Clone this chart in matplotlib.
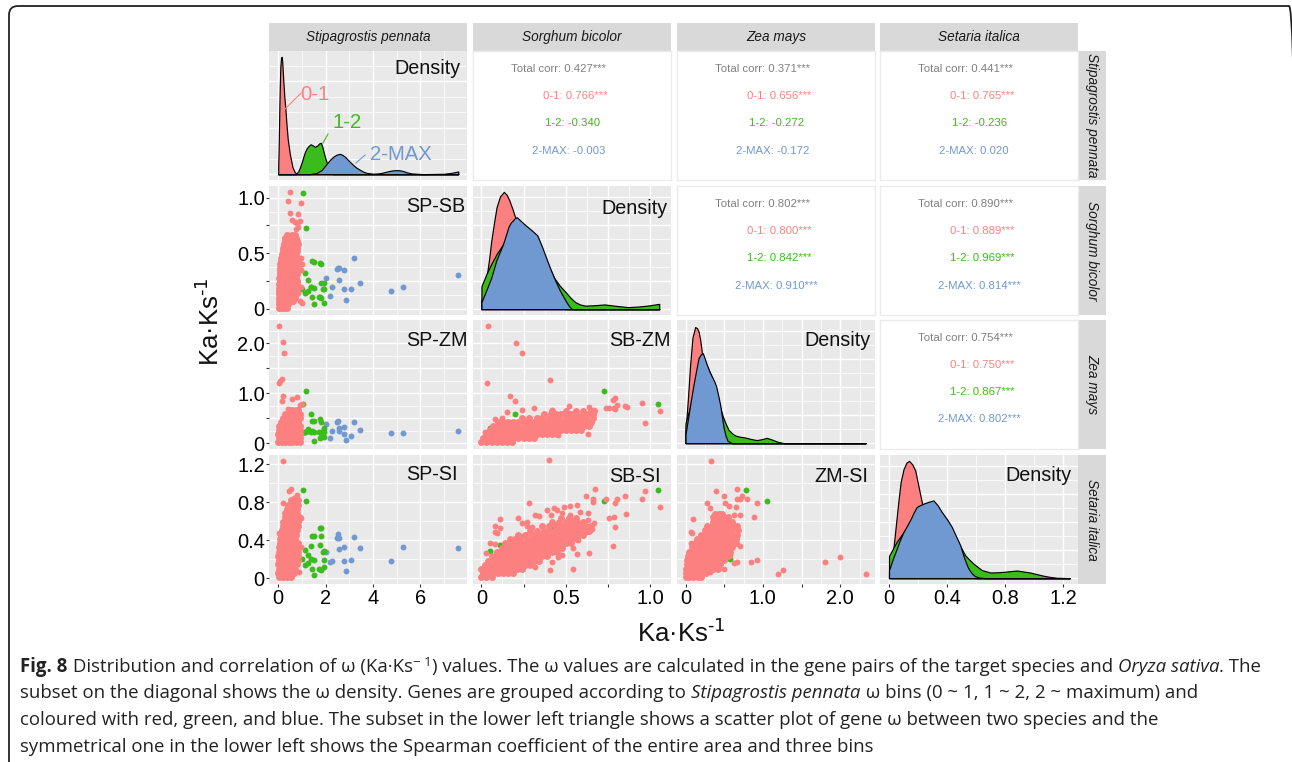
import matplotlib
matplotlib.use('Agg')
from matplotlib import pyplot as plt
from matplotlib.lines import Line2D
from matplotlib.patches import FancyBboxPatch
from matplotlib.transforms import IdentityTransform

plt.rcParams['font.family'] = ['Liberation Sans', 'DejaVu Sans']
plt.rcParams['mathtext.default'] = 'regular'

W, H = 1292, 762
PINK, GREEN, BLUE = '#FD8080', '#3CBB1C', '#7099D2'

species = ['Stipagrostis pennata', 'Sorghum bicolor', 'Zea mays', 'Setaria italica']

# genes above omega 2 in S. pennata: SP, SB, ZM, SI
blue_sp = [7.6, 5.25, 4.77, 3.46, 3.18, 3.07, 2.87, 2.77, 2.77, 2.56, 2.56, 2.48, 2.53, 2.25, 2.17, 2.0]
blue_sb = [.30, .20, .16, .23, .46, .18, .075, .18, .35, .255, .37, .355, .37, .195, .115, .275]
blue_zm = [.245, .205, .20, .265, .43, .15, .07, .18, .33, .25, .30, .42, .44, .245, .105, .38]
blue_si = [.315, .325, .185, .315, .43, .19, .07, .175, .325, .305, .42, .42, .465, .185, .17, .27]

# genes in bin 1-2
green_sp = [1.03, 1.18, 1.76, 1.82, 1.41, 1.49, 1.80, 1.39, 1.76, 1.11, 1.94, 1.89, 1.27, 1.01, 1.37, 1.53, 1.94, 1.11, 1.24, 1.41, 1.73, 1.94, 1.8, 1.51]
green_sb = [1.045, .73, .41, .40, .43, .417, .23, .2, .11, .325, .05, .18, .26, .175, .2, .185, .23, .14, .16, .11, .11, .18, .1, .04]
green_zm = [.78, 1.05, .48, .43, .445, .445, .23, .58, .10, .22, .31, .22, .28, .20, .22, .23, .22, .22, .25, .25, .22, .12, .12, .04]
green_si = [.935, .81, .53, .53, .44, .44, .445, .205, .345, .30, .285, .275, .24, .205, .335, .195, .195, .135, .16, .095, .095, .12, .08, .03]

# bin 0-1: dense part read row by row (y, xs), outliers as (x, y)
sp_sb_rows = [
    (.01, [.02, .12, .24, .36]), (.04, [.02, .14, .28, .42]), (.07, [.03, .18, .33, .5, .62]),
    (.10, [.02, .13, .27, .41, .55, .7]), (.13, [.04, .18, .32, .46, .6, .74]), (.16, [.02, .15, .29, .44, .58, .76]),
    (.19, [.05, .2, .35, .5, .65, .8]), (.22, [.03, .17, .31, .47, .62, .78]), (.25, [.06, .2, .34, .49, .64, .79]),
    (.28, [.05, .18, .33, .48, .63, .77]), (.31, [.07, .22, .36, .51, .66, .8]), (.34, [.06, .2, .35, .5, .65, .78]),
    (.37, [.08, .23, .38, .53, .68, .82]), (.40, [.09, .24, .39, .54, .69, .8]), (.43, [.12, .27, .42, .57, .72, .84]),
    (.46, [.13, .28, .43, .58, .73, .8]), (.49, [.16, .3, .45, .6, .75]), (.52, [.2, .35, .5, .65, .8]),
    (.55, [.22, .37, .52, .67, .8]), (.58, [.25, .4, .55, .7, .82]), (.61, [.28, .42, .58, .73, .8]),
    (.64, [.3, .45, .6, .75]), (.665, [.38, .56, .72]),
]
sp_sb_out = [(.5, 1.055), (.42, .97), (.98, .955), (.5, .86), (.85, .85), (.6, .8), (.7, .78), (.8, .77), (.9, .79),
             (.75, .72), (.85, .74), (.98, .46), (1.0, .4), (.95, .35), (.95, .2), (.85, .14), (.92, .07), (1.0, .055)]

sp_zm_rows = [
    (.03, [0, .15, .3, .45, .6, .75, .9]), (.11, [.02, .17, .32, .47, .62, .77, .93]),
    (.19, [0, .15, .3, .45, .6, .75, .9]), (.27, [.03, .18, .33, .48, .63, .78, .93]),
    (.35, [.05, .2, .35, .5, .65, .8, .92]), (.43, [.1, .25, .4, .55, .7, .85]),
    (.51, [.2, .35, .5, .65, .8, .93]), (.59, [.3, .45, .6, .75, .9]), (.66, [.45, .6, .75, .85]),
]
sp_zm_out = [(.04, 2.347), (.21, 2.013), (.225, 1.807), (.04, 1.207), (.14, 1.28), (.07, 1.247), (.2, .947), (.17, .853),
             (.6, .887), (.8, .92), (.42, .687), (.92, .767), (.99, .78)]

sp_si_rows = [
    (.01, [.02, .2, .38, .55]), (.055, [0, .17, .34, .5, .66]), (.10, [.03, .2, .37, .54, .7]),
    (.145, [0, .17, .34, .5, .66, .8]), (.19, [.02, .19, .36, .52, .68, .82]), (.235, [0, .17, .33, .5, .65, .85]),
    (.28, [.02, .2, .37, .53, .7, .85]), (.325, [.04, .2, .36, .52, .68, .85]), (.37, [.06, .22, .38, .54, .7, .82]),
    (.415, [.08, .24, .4, .56, .72]), (.46, [.1, .26, .42, .58, .74]), (.505, [.15, .31, .47, .63, .78]),
    (.55, [.2, .36, .52, .68, .82]), (.595, [.22, .38, .54, .7, .85]), (.64, [.28, .44, .6, .76, .88]),
    (.685, [.3, .46, .62, .78]), (.73, [.35, .5, .65, .8]), (.775, [.42, .58, .74, .84]), (.82, [.55, .7, .78, .85]),
]
sp_si_out = [(.21, 1.24), (.44, .92), (.54, .944), (.21, .79), (.8, .873), (.68, .85), (.89, .06), (.96, .33), (.92, .648),
             (.95, .63), (.07, .355), (.05, .48)]

sb_zm_rows = [
    (.03, [0, .03, .06, .09, .12, .15, .18]),
    (.10, [.01, .04, .07, .1, .13, .16, .19, .22, .25, .28, .31]),
    (.18, [.03, .06, .09, .12, .15, .18, .21, .24, .27, .3, .33, .36, .39, .42, .45]),
    (.26, [.05, .08, .11, .14, .17, .2, .23, .26, .29, .32, .35, .38, .41, .44, .47, .5, .53, .56, .59]),
    (.34, [.07, .1, .13, .16, .19, .22, .25, .28, .31, .34, .37, .4, .43, .46, .49, .52, .55, .58, .61, .64]),
    (.42, [.1, .13, .16, .19, .22, .25, .28, .31, .34, .37, .4, .43, .46, .49, .52, .55, .58, .61, .65]),
    (.50, [.24, .28, .33, .36, .4, .43, .46, .5, .53, .56, .59, .62, .66]),
    (.58, [.37, .41, .44, .47, .5, .53, .56, .6, .63, .66]),
    (.65, [.42, .5, .56, .6, .65, .67]),
]
sb_zm_out = [(.04, 2.337), (.203, 2.005), (.242, 1.806), (.033, 1.208), (.406, 1.268), (.168, .936), (.2, .843), (.15, .63),
             (.24, .67), (.314, .704), (.518, .744), (.42, .664), (.637, .717), (.74, .697), (.76, .704), (.785, .71),
             (.805, .757), (.79, .916), (.783, .876), (.853, .737), (.861, .717), (.955, .797), (1.057, .65), (.969, .4),
             (.633, .18), (.79, .68), (.08, .478), (.023, .232), (.125, .498), (.453, .166), (.668, .664), (.648, .4), (.613, .43)]

sb_si_rows = [
    (.01, [0, .03, .06]), (.05, [.01, .04, .07, .1, .13, .16, .19]),
    (.095, [0, .03, .06, .09, .12, .15, .18, .21, .24]),
    (.14, [.02, .05, .08, .11, .14, .17, .2, .23, .26, .29]),
    (.185, [.04, .07, .1, .13, .16, .19, .22, .25, .28, .31, .34]),
    (.23, [.06, .09, .12, .15, .18, .21, .24, .27, .3, .33, .36, .39]),
    (.275, [.09, .12, .15, .18, .21, .24, .27, .3, .33, .36, .39, .42, .45]),
    (.32, [.12, .15, .18, .21, .24, .27, .3, .33, .36, .39, .42, .45, .48]),
    (.365, [.14, .17, .2, .23, .26, .29, .32, .35, .38, .41, .44, .47, .5, .53]),
    (.41, [.17, .2, .23, .27, .3, .33, .36, .39, .42, .45, .48, .51, .54, .57]),
    (.455, [.22, .26, .3, .33, .36, .39, .42, .45, .48, .51, .54, .57, .6]),
    (.50, [.29, .33, .37, .4, .43, .46, .49, .52, .55, .58, .61, .64]),
    (.545, [.36, .4, .44, .47, .5, .53, .56, .59, .62, .65]),
    (.59, [.42, .46, .5, .54, .57, .6]), (.63, [.47, .52, .56]),
]
sb_si_out = [(.4, 1.243), (.672, .944), (.62, .87), (.66, .84), (.66, .80), (.742, .84), (.805, .83), (.79, .795), (.853, .87),
             (.955, .84), (.969, .92), (1.057, .75), (.86, .672), (.785, .648), (.76, .63), (.79, .535), (.783, .338), (.637, .26),
             (.566, .25), (.543, .1), (.406, .08), (.28, .79), (.22, .637), (.11, .62), (.08, .55), (.113, .53), (.082, .49),
             (.09, .48), (.053, .366), (.08, .355), (.027, .26), (.238, .585), (.27, .595), (.27, .55), (.3, .54), (.32, .665),
             (.34, .66), (.39, .72), (.428, .735), (.41, .665), (.447, .72), (.49, .746), (.527, .764), (.57, .768), (.48, .683),
             (.525, .665), (.584, .694), (.633, .683), (.633, .612), (.67, .585), (.656, .518), (.623, .49), (.574, .4),
             (.545, .313), (.477, .243), (.453, .225), (.418, .172), (.32, .12)]

zm_si_rows = [
    (.01, [0, .05, .1, .16, .2]), (.055, [.01, .06, .11, .16, .21, .26]),
    (.10, [0, .05, .1, .15, .2, .25, .3, .36, .42]), (.145, [.02, .07, .12, .17, .22, .27, .32, .38, .45]),
    (.19, [.02, .07, .12, .17, .22, .27, .32, .38, .44, .5]), (.235, [.03, .08, .13, .18, .23, .28, .33, .39, .45, .5, .55]),
    (.28, [.05, .1, .15, .2, .25, .3, .35, .41, .47, .53, .58]), (.325, [.08, .13, .18, .23, .28, .33, .38, .44, .5, .55, .6]),
    (.37, [.12, .17, .22, .27, .32, .37, .42, .48, .54, .6, .65]), (.415, [.15, .2, .25, .3, .35, .4, .46, .52, .58, .65]),
    (.46, [.2, .25, .3, .35, .4, .45, .5, .56, .62, .66]), (.505, [.25, .3, .35, .4, .45, .5, .55, .6, .68]),
    (.55, [.28, .34, .4, .45, .5, .56, .62, .66]), (.595, [.35, .41, .47, .54, .6]),
    (.64, [.36, .42, .47, .55]), (.68, [.38, .43, .47]),
]
zm_si_out = [(.336, 1.24), (.66, .944), (.4, .92), (.5, .87), (.733, .87), (.67, .84), (.71, .84), (.8, .84), (.918, .795),
             (.51, .795), (.56, .764), (.647, .746), (.28, .79), (.32, .736), (.1, .62), (.065, .49), (.08, .48), (.073, .366),
             (.71, .67), (.63, .67), (.88, .644), (.71, .338), (.845, .172), (.93, .194), (1.19, .042), (1.26, .08), (1.8, .165),
             (2.0, .225), (2.33, .046), (.67, .172), (.63, .155), (.495, .095), (.323, .067), (.58, .243)]

# densities on the diagonal, scaled to the peak of each panel
dens_sp_x_pink = [0, .01, .02, .035, .05, .07, .09, .115, .14, .165, .19, .22, .25, .3, .35, .4, .49, .6, .7, .8, 7.6]
dens_sp_y_pink = [.08, .15, .25, .42, .6, .78, .92, .98, 1.0, .97, .88, .78, .68, .56, .42, .3, .17, .06, .015, .002, 0]
dens_sp_x_green = [0, .75, .85, .92, 1.0, 1.06, 1.13, 1.2, 1.28, 1.37, 1.46, 1.55, 1.65, 1.73, 1.8, 1.86, 1.92, 1.97, 2.02, 2.08, 2.2, 2.3, 7.6]
dens_sp_y_green = [0, 0, .025, .06, .105, .148, .19, .22, .24, .255, .245, .233, .245, .262, .267, .235, .185, .148, .115, .085, .03, 0, 0]
dens_sp_x_blue = [0, 1.34, 1.62, 1.83, 2.08, 2.2, 2.32, 2.45, 2.6, 2.7, 2.82, 3.0, 3.17, 3.3, 3.45, 3.6, 3.73, 4.01, 4.2, 4.37, 4.55, 4.72, 4.87, 5.0, 5.15, 5.28, 5.45, 5.63, 6.1, 7.0, 7.32, 7.6]
dens_sp_y_blue = [0, 0, .01, .034, .097, .125, .148, .165, .173, .165, .148, .11, .077, .055, .037, .02, .011, .003, .006, .011, .02, .028, .033, .034, .032, .026, .014, .006, 0, .003, .011, .023]

dens_sb_x_pink = [0, .015, .03, .045, .0586, .075, .09, .11, .133, .15, .166, .185, .2, .24, .32, .38, .44, .5, 1.055]
dens_sb_y_pink = [.07, .16, .27, .42, .585, .74, .87, .96, 1.0, .975, .926, .85, .784, .6, .25, .07, .02, 0, 0]
dens_sb_x_green = [0, .03, .0586, .09, .127, .2, .3, .39, .43, .465, .5, .53, .557, .585, .615, .67, .73, .8, .87, .93, .986, 1.055]
dens_sb_y_green = [.195, .3, .386, .47, .55, .7, .6, .4, .27, .2, .145, .095, .06, .04, .03, .033, .04, .028, .017, .022, .03, .045]
dens_sb_x_blue = [0, .03, .0586, .088, .127, .145, .16, .175, .186, .198, .21, .235, .264, .3, .332, .36, .39, .41, .43, .465, .5, .52, .537, 1.055]
dens_sb_y_blue = [.06, .165, .27, .415, .55, .63, .70, .74, .755, .775, .784, .75, .713, .67, .628, .53, .415, .34, .27, .16, .07, .025, 0, 0]

dens_zm_x_pink = [0, .03, .06, .09, .125, .15, .17, .19, .21, .25, .3, .4, .5, .6, 2.33]
dens_zm_y_pink = [.1, .37, .67, .9, .99, .98, .95, .88, .78, .55, .35, .1, .03, 0, 0]
dens_zm_x_green = [0, .103, .168, .25, .35, .45, .483, .52, .556, .6, .642, .7, .77, .85, .92, .98, 1.05, 1.12, 1.18, 1.27, 2.33]
dens_zm_y_green = [.17, .41, .61, .7, .55, .3, .227, .165, .114, .085, .065, .055, .048, .035, .026, .033, .045, .03, .014, 0, 0]
dens_zm_x_blue = [0, .03, .06, .103, .135, .168, .195, .224, .25, .276, .31, .34, .37, .397, .425, .448, .47, .49, .515, .543, .6, 2.33]
dens_zm_y_blue = [.077, .2, .327, .497, .61, .724, .755, .767, .72, .668, .61, .568, .53, .483, .4, .327, .23, .142, .07, .02, 0, 0]

dens_si_x_pink = [0, .015, .03, .047, .064, .08, .1, .12, .138, .16, .18, .2, .225, .3, .4, .5, .6, 1.244]
dens_si_y_pink = [.04, .13, .25, .45, .65, .82, .93, .985, 1.0, .97, .92, .8, .65, .3, .08, .01, 0, 0]
dens_si_x_green = [0, .053, .1, .15, .25, .4, .5, .524, .55, .58, .61, .64, .697, .75, .79, .88, .97, 1.02, 1.064, 1.11, 1.156, 1.244]
dens_si_y_green = [.19, .31, .394, .485, .55, .45, .25, .195, .16, .125, .095, .068, .048, .05, .054, .065, .048, .033, .02, .01, .003, 0]
dens_si_x_blue = [0, .025, .053, .075, .1, .125, .15, .17, .19, .21, .237, .27, .306, .335, .363, .4, .432, .46, .49, .515, .536, .55, .57, .59, .616, .66, 1.244]
dens_si_y_blue = [.068, .16, .25, .325, .394, .45, .507, .56, .606, .62, .635, .65, .663, .62, .564, .5, .436, .36, .28, .18, .11, .075, .04, .018, .006, 0, 0]

# spearman text of the upper triangle
corr_pairs = [(0, 1), (0, 2), (0, 3), (1, 2), (1, 3), (2, 3)]
corr_total = ['0.427***', '0.371***', '0.441***', '0.802***', '0.890***', '0.754***']
corr_01 = ['0.766***', '0.656***', '0.765***', '0.800***', '0.889***', '0.750***']
corr_12 = ['-0.340', '-0.272', '-0.236', '0.842***', '0.969***', '0.867***']
corr_2max = ['-0.003', '-0.172', '0.020', '0.910***', '0.814***', '0.802***']


def px_x(x):
    return x / W


def px_y(y):
    return 1 - y / H


col_left = [269, 473, 677, 880]
row_top = [51, 186, 320, 455]
panel_w, panel_h = 198, 129

xlims = [(-.39, 7.97), (-.05, 1.11), (-.11, 2.45), (-.062, 1.30)]
ylims = [(-.05, 1.05), (-.056, 1.105), (-.11, 2.46), (-.063, 1.30)]

x_major = [[0, 2, 4, 6], [0, .25, .5, .75, 1.0], [0, .5, 1.0, 1.5, 2.0], [0, .4, .8, 1.2]]
x_minor = [[1, 3, 5, 7], [.125, .375, .625, .875, 1.125], [.25, .75, 1.25, 1.75, 2.25], [.2, .6, 1.0]]
x_labels = [['0', '2', '4', '6'], ['0', '', '0.5', '', '1.0'], ['0', '', '1.0', '', '2.0'], ['0', '0.4', '0.8', '1.2']]
y_major = [[0, .395, .79], [0, .25, .5, .75, 1.0], [0, .5, 1.0, 1.5, 2.0], [0, .4, .8, 1.2]]
y_minor = [[.13, .26, .53, .66, .92], [.125, .375, .625, .875], [.25, .75, 1.25, 1.75, 2.25], [.2, .6, 1.0]]
y_labels = [[], ['0', '', '0.5', '', '1.0'], ['0', '', '1.0', '', '2.0'], ['0', '0.4', '0.8', '1.2']]
diag_major = [0, .24, .48, .72, .96]
diag_minor = [.12, .36, .6, .84]


def flatten(rows):
    xs, ys = [], []
    for y, row in rows:
        for x in row:
            xs.append(x)
            ys.append(y)
    return xs, ys


def make_panel(fig, r, c):
    ax = fig.add_axes([px_x(col_left[c]), px_y(row_top[r] + panel_h), panel_w / W, panel_h / H])
    ax.set_xlim(*xlims[c])
    ax.set_ylim(*(ylims[r] if r != c else (-.05, 1.05)))
    ax.set_facecolor('#E9E9E9')
    for s in ax.spines.values():
        s.set_visible(False)
    ax.set_axisbelow(True)
    ax.set_xticks(x_major[c])
    ax.set_xticks(x_minor[c], minor=True)
    if r == c:
        ax.set_yticks(y_major[0] if r == 0 else diag_major)
        ax.set_yticks(y_minor[0] if r == 0 else diag_minor, minor=True)
    else:
        ax.set_yticks(y_major[r])
        ax.set_yticks(y_minor[r], minor=True)
    ax.grid(True, which='major', color='white', lw=1.0)
    ax.grid(True, which='minor', color='white', lw=0.55)
    ax.tick_params(which='minor', length=0)
    ax.tick_params(axis='x', length=2.2, width=0.8, color='#333333', labelsize=14.4, pad=1.5,
                   bottom=r == 3, labelbottom=r == 3)
    ax.tick_params(axis='y', length=2.2, width=0.8, color='#333333', labelsize=14.4, pad=0.8,
                   left=c == 0 and r > 0, labelleft=c == 0 and r > 0)
    if r == 3:
        ax.set_xticklabels(x_labels[c])
    if c == 0 and r > 0:
        ax.set_yticklabels(y_labels[r])
    return ax


def density(ax, xp, yp, xg, yg, xb, yb):
    for x, y, col in [(xp, yp, PINK), (xg, yg, GREEN), (xb, yb, BLUE)]:
        ax.fill_between(x, y, 0, facecolor=col, edgecolor='black', lw=0.85)


def scatter_panel(ax, gene_x, gene_y, rows, out):
    ax.scatter(gene_x[0], gene_y[0], s=18, color=BLUE, linewidths=0)
    ax.scatter(gene_x[1], gene_y[1], s=18, color=GREEN, linewidths=0)
    xs, ys = flatten(rows)
    ax.scatter(xs, ys, s=25, color=PINK, linewidths=0)
    ax.scatter([p[0] for p in out], [p[1] for p in out], s=18, color=PINK, linewidths=0)


def draw_runs(fig, x, y, runs, size):
    # caption line: pieces of text one after the other, measured on the canvas
    rend = fig.canvas.get_renderer()
    for run in runs:
        txt = run[0]
        style = run[1] if len(run) > 1 else 'normal'
        weight = run[2] if len(run) > 2 else 'normal'
        dy = run[3] if len(run) > 3 else 0
        sz = run[4] if len(run) > 4 else size
        kw = dict(fontsize=sz, family=['Open Sans', 'DejaVu Sans'], style=style, weight=weight)
        fig.text(px_x(x), px_y(y - dy), txt, ha='left', va='baseline', color='#222222', **kw)
        probe = fig.text(0, 0, txt + '|', **kw)
        bar = fig.text(0, 0, '|', **kw)
        x += probe.get_window_extent(rend).width - bar.get_window_extent(rend).width
        probe.remove()
        bar.remove()


fig = plt.figure(figsize=(W / 100, H / 100), dpi=100, facecolor='white')

frame = FancyBboxPatch((9, H - 800), 1289, 794, boxstyle='round,pad=0,rounding_size=9', fc='none', ec='#222222',
                       lw=1.3, transform=IdentityTransform())
fig.add_artist(frame)

# strips
for i, name in enumerate(species):
    top = fig.add_axes([px_x(col_left[i]), px_y(51), panel_w / W, 28 / H], facecolor='#D9D9D9')
    top.set_xticks([])
    top.set_yticks([])
    for s in top.spines.values():
        s.set_visible(False)
    top.text(.5, .5, name, transform=top.transAxes, ha='center', va='center', style='italic', fontsize=9.8, color='#1A1A1A')
    right = fig.add_axes([px_x(1078), px_y(row_top[i] + panel_h), 28 / W, panel_h / H], facecolor='#D9D9D9')
    right.set_xticks([])
    right.set_yticks([])
    for s in right.spines.values():
        s.set_visible(False)
    right.text(.5, .5, name, transform=right.transAxes, ha='center', va='center', style='italic', fontsize=9.8,
               rotation=-90, color='#1A1A1A')

# diagonal
diag = [make_panel(fig, i, i) for i in range(4)]
density(diag[0], dens_sp_x_pink, dens_sp_y_pink, dens_sp_x_green, dens_sp_y_green, dens_sp_x_blue, dens_sp_y_blue)
density(diag[1], dens_sb_x_pink, dens_sb_y_pink, dens_sb_x_green, dens_sb_y_green, dens_sb_x_blue, dens_sb_y_blue)
density(diag[2], dens_zm_x_pink, dens_zm_y_pink, dens_zm_x_green, dens_zm_y_green, dens_zm_x_blue, dens_zm_y_blue)
density(diag[3], dens_si_x_pink, dens_si_y_pink, dens_si_x_green, dens_si_y_green, dens_si_x_blue, dens_si_y_blue)

# lower triangle
blue_genes = [blue_sp, blue_sb, blue_zm, blue_si]
green_genes = [green_sp, green_sb, green_zm, green_si]
lower = [
    (1, 0, sp_sb_rows, sp_sb_out), (2, 0, sp_zm_rows, sp_zm_out), (3, 0, sp_si_rows, sp_si_out),
    (2, 1, sb_zm_rows, sb_zm_out), (3, 1, sb_si_rows, sb_si_out), (3, 2, zm_si_rows, zm_si_out),
]
for r, c, rows, out in lower:
    ax = make_panel(fig, r, c)
    scatter_panel(ax, (blue_genes[c], green_genes[c]), (blue_genes[r], green_genes[r]), rows, out)

# upper triangle
for k, (r, c) in enumerate(corr_pairs):
    ax = fig.add_axes([px_x(col_left[c]), px_y(row_top[r] + panel_h), panel_w / W, panel_h / H], facecolor='white')
    ax.set_xticks([])
    ax.set_yticks([])
    for s in ax.spines.values():
        s.set_color('#EBEBEB')
        s.set_linewidth(1.0)
    lines = [('Total corr: ' + corr_total[k], '#808080', 38.3, 18),
             ('0-1: ' + corr_01[k], PINK, 70, 45),
             ('1-2: ' + corr_12[k], GREEN, 70 if '*' in corr_12[k] else 71.7, 72),
             ('2-MAX: ' + corr_2max[k], BLUE, 57.7 if '*' in corr_2max[k] else 59, 99.5)]
    for txt, col, dx, dy in lines:
        fig.text(px_x(col_left[c] + dx), px_y(row_top[r] + dy), txt, color=col, fontsize=8.2, ha='left', va='center')

# panel names
names = [('Density', 394, 69), ('SP-SB', 406, 207), ('Density', 601, 209), ('SP-ZM', 406, 340), ('SB-ZM', 609, 340),
         ('Density', 804, 341), ('SP-SI', 406, 474), ('SB-SI', 609, 477), ('ZM-SI', 814, 477), ('Density', 1005, 475)]
for txt, x, y in names:
    fig.text(px_x(x), px_y(y), txt, fontsize=14.2, ha='left', va='center', color='#111111', zorder=10)

# bin labels of the first density
bin_labels = [('0-1', PINK, 315, 94, (285, 109), (301, 93)), ('1-2', GREEN, 347, 122, (323, 143), (328, 134)),
              ('2-MAX', BLUE, 401, 155, (356, 163), (365, 155))]
for txt, col, x, y, p0, p1 in bin_labels:
    fig.text(px_x(x), px_y(y), txt, color=col, fontsize=14.6, ha='center', va='center', zorder=10)
    fig.add_artist(Line2D([px_x(p0[0]), px_x(p1[0])], [px_y(p0[1]), px_y(p1[1])], color=col, lw=0.8, zorder=10))

# axis titles
fig.text(px_x(681), px_y(633), r'Ka·Ks$^{\text{-1}}$', fontsize=18.5, ha='center', va='center', color='#111111')
fig.text(px_x(210), px_y(322), r'Ka·Ks$^{\text{-1}}$', fontsize=18.5, ha='center', va='center', rotation=90, color='#111111')

# caption
caption_size = 13.45
draw_runs(fig, 20.5, 672, [('Fig. 8', 'normal', 'bold'), (' Distribution and correlation of ω (Ka·Ks',),
                           ('− 1', 'normal', 'normal', 6, 9.5),
                           (') values. The ω values are calculated in the gene pairs of the target species and ',),
                           ('Oryza sativa', 'italic'), ('. The',)], caption_size)
draw_runs(fig, 20.5, 698, [('subset on the diagonal shows the ω density. Genes are grouped according to ',),
                           ('Stipagrostis pennata', 'italic'), (' ω bins (0 ~ 1, 1 ~ 2, 2 ~ maximum) and',)], caption_size)
draw_runs(fig, 20.5, 725, [('coloured with red, green, and blue. The subset in the lower left triangle shows a scatter plot of gene ω between two species and the',)], caption_size)
draw_runs(fig, 20.5, 751.5, [('symmetrical one in the lower left shows the Spearman coefficient of the entire area and three bins',)], caption_size)

fig.savefig('out.png', dpi=100, facecolor='white')
